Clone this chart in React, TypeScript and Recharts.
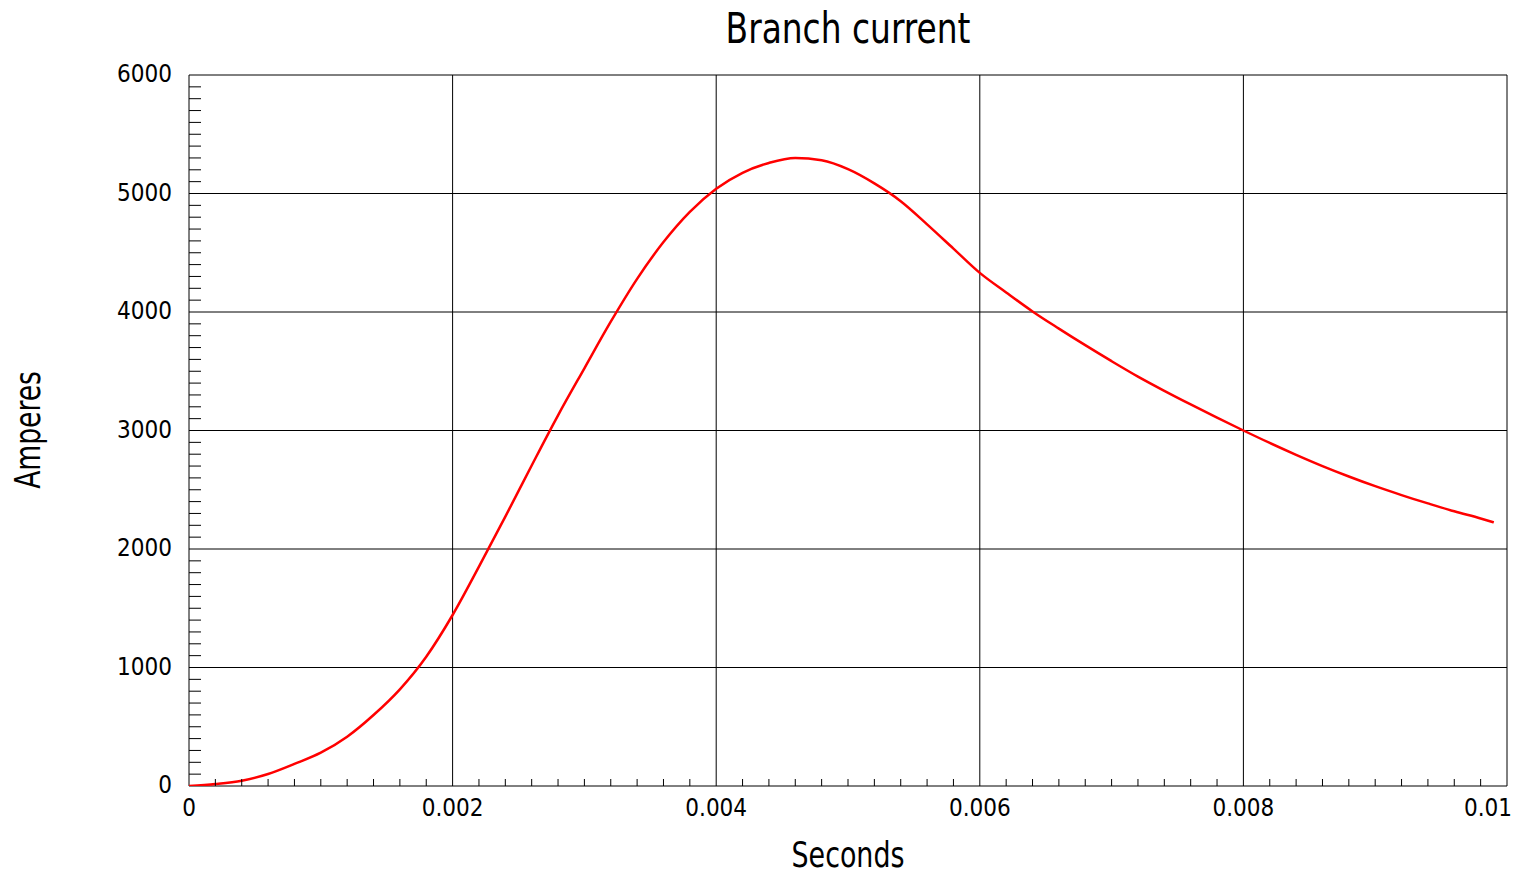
import { LineChart, Line, XAxis, YAxis, ReferenceLine } from 'recharts';

// time (s) and branch current (A)
const timeS = [
  0, 0.0002, 0.0004, 0.0006, 0.0008, 0.001, 0.0012, 0.0014, 0.0016, 0.0018,
  0.002, 0.0022, 0.0024, 0.0026, 0.0028, 0.003, 0.0032, 0.0034, 0.0036, 0.0038,
  0.004, 0.0042, 0.0044, 0.0046, 0.0048, 0.005, 0.0052, 0.0054, 0.0056, 0.0058,
  0.006, 0.0062, 0.0064, 0.0066, 0.0068, 0.007, 0.0072, 0.0074, 0.0076, 0.0078,
  0.008, 0.0082, 0.0084, 0.0086, 0.0088, 0.009, 0.0092, 0.0094, 0.0096, 0.0098,
  0.0099,
];
const currentA = [
  0, 17, 45, 101, 186, 281, 416, 599, 816, 1091,
  1443, 1851, 2273, 2705, 3128, 3525, 3918, 4280, 4590, 4845,
  5040, 5175, 5258, 5300, 5280, 5205, 5085, 4935, 4740, 4535,
  4330, 4165, 4005, 3860, 3720, 3585, 3455, 3335, 3220, 3108,
  3000, 2895, 2795, 2700, 2612, 2530, 2455, 2385, 2318, 2258,
  2225,
];

const xMajor = [0, 0.002, 0.004, 0.006, 0.008, 0.01];
const xLabels = ['0', '0.002', '0.004', '0.006', '0.008', '0.01'];
const yMajor = [0, 1000, 2000, 3000, 4000, 5000, 6000];

const xMinorTicks = Array.from({ length: 51 }, (_, i) => i / 5000);
const yMinorTicks = Array.from({ length: 61 }, (_, i) => i * 100);

const data = timeS.map((t, i) => ({ t, amps: currentA[i] }));

const FONT = "'Liberation Sans Narrow', 'DejaVu Sans Condensed', 'Roboto Condensed', Roboto, sans-serif";

function XTick(props: any) {
  const { x, y, index } = props;
  const major = index % 10 === 0;
  const label = major ? xLabels[index / 10] : null;
  const last = index === 50;
  return (
    <g>
      {!major && <line x1={x} x2={x} y1={y} y2={y - 7} stroke="#000" />}
      {label !== null && (
        <text
          x={last ? x + 5 : x}
          y={y + 22}
          textAnchor={last ? 'end' : 'middle'}
          dominantBaseline="central"
          fontFamily={FONT}
          fontSize={24}
          fill="#000"
        >
          {label}
        </text>
      )}
    </g>
  );
}

function YTick(props: any) {
  const { x, y, payload } = props;
  const v = payload.value;
  const major = v % 1000 === 0;
  return (
    <g>
      {!major && <line x1={x} x2={x + 12} y1={y} y2={y} stroke="#000" />}
      {major && (
        <text
          x={x - 17}
          y={y - 1}
          textAnchor="end"
          dominantBaseline="central"
          fontFamily={FONT}
          fontSize={24}
          fill="#000"
        >
          {v}
        </text>
      )}
    </g>
  );
}

export default function App() {
  return (
    <div style={{ position: 'absolute', left: 0, top: 0, width: 1520, height: 873, background: '#fff' }}>
      <div
        style={{
          position: 'absolute', left: 0, width: 1696, top: 4, textAlign: 'center',
          fontFamily: FONT, fontSize: 42, lineHeight: '50px', color: '#000',
          transform: 'scaleX(0.87)', transformOrigin: '848px 0',
        }}
      >
        Branch current
      </div>
      <div
        style={{
          position: 'absolute', left: 0, width: 1696, top: 834, textAlign: 'center',
          fontFamily: FONT, fontSize: 36, lineHeight: '42px', color: '#000',
          transform: 'scaleX(0.83)', transformOrigin: '848px 0',
        }}
      >
        Seconds
      </div>
      <div
        style={{
          position: 'absolute', left: 28, top: 430,
          transform: 'translate(-50%, -50%) rotate(-90deg) scaleX(0.82)',
          fontFamily: FONT, fontSize: 36, lineHeight: '42px', color: '#000', whiteSpace: 'nowrap',
        }}
      >
        Amperes
      </div>
      <LineChart
        width={1520}
        height={873}
        data={data}
        margin={{ top: 75, right: 13, bottom: 0, left: 0 }}
        style={{ position: 'absolute', left: 0, top: 0 }}
      >
        <XAxis
          dataKey="t"
          type="number"
          domain={[0, 0.01]}
          ticks={xMinorTicks}
          interval={0}
          height={87}
          axisLine={false}
          tickLine={false}
          tickSize={0}
          tickMargin={0}
          tick={<XTick />}
          allowDataOverflow
        />
        <YAxis
          type="number"
          domain={[0, 6000]}
          ticks={yMinorTicks}
          interval={0}
          width={189}
          axisLine={false}
          tickLine={false}
          tickSize={0}
          tickMargin={0}
          tick={<YTick />}
          allowDataOverflow
        />
        {yMajor.map((v) => (
          <ReferenceLine key={'y' + v} y={v} stroke="#000" strokeWidth={1} />
        ))}
        {xMajor.map((v) => (
          <ReferenceLine key={'x' + v} x={v} stroke="#000" strokeWidth={1} />
        ))}
        <Line
          dataKey="amps"
          type="monotone"
          stroke="#ff0000"
          strokeWidth={2.5}
          dot={false}
          isAnimationActive={false}
        />
      </LineChart>
    </div>
  );
}
